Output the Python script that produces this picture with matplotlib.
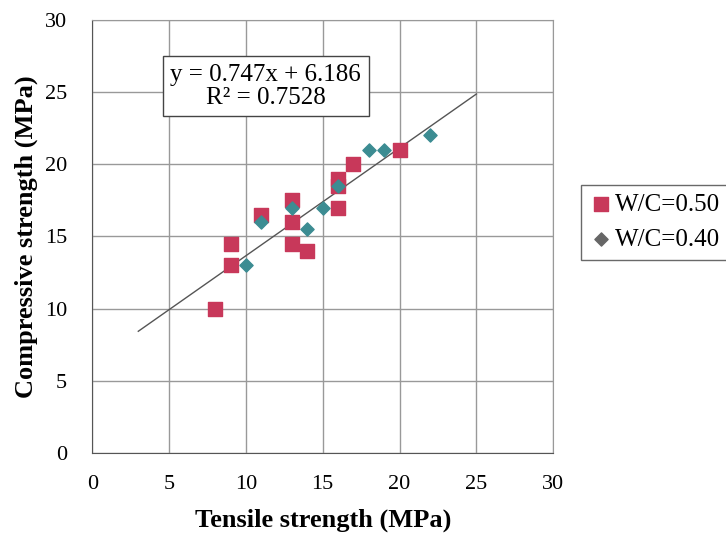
import matplotlib.pyplot as plt
import numpy as np

plt.rcParams['font.family'] = ['Liberation Serif', 'DejaVu Serif']

# W/C = 0.50 (squares)
x50 = [8, 9, 9, 11, 13, 13, 13, 14, 16, 16, 16, 17, 20]
y50 = [10, 14.5, 13, 16.5, 17.5, 16, 14.5, 14, 17, 19, 18.5, 20, 21]
# W/C = 0.40 (diamonds)
x40 = [10, 11, 13, 14, 15, 16, 18, 19, 22]
y40 = [13, 16, 17, 15.5, 17, 18.5, 21, 21, 22]

slope, intercept = 0.747, 6.186
fit_x = [3, 25]

fig = plt.figure(figsize=(7.26, 5.36), dpi=100)
ax = fig.add_axes([0.127, 0.155, 0.635, 0.808])

ax.plot(fit_x, [slope * v + intercept for v in fit_x], color='#555555', lw=1, zorder=2)
ax.scatter(x50, y50, marker='s', s=110, color='#C8385A', label='W/C=0.50', zorder=3)
ax.scatter(x40, y40, marker='D', s=45, color='#3C8C92', label='W/C=0.40', zorder=4)

ax.set_xlim(0, 30)
ax.set_ylim(0, 30)
ax.set_xticks(range(0, 31, 5))
ax.set_yticks(range(0, 31, 5))
ax.grid(True, color='#999999', lw=1)
ax.set_axisbelow(True)
for side, s in ax.spines.items():
    s.set_color('#555555' if side in ('left', 'bottom') else '#999999')
ax.tick_params(length=0, labelsize=16)
ax.tick_params(axis='x', pad=16)
ax.tick_params(axis='y', pad=18)

ax.set_xlabel('Tensile strength (MPa)', fontsize=19, fontweight='bold')
ax.set_ylabel('Compressive strength (MPa)', fontsize=19, fontweight='bold')
ax.xaxis.set_label_coords(0.5, -0.128)
ax.yaxis.set_label_coords(-0.118, 0.5)

ax.text(11.3, 25.4, 'y = 0.747x + 6.186\nR² = 0.7528', fontsize=18, ha='center', va='center',
        linespacing=1.05, bbox=dict(boxstyle='square,pad=0.3', fc='white', ec='#444444', lw=1))

leg = ax.legend(loc='center left', bbox_to_anchor=(581 / 726, 1 - 222 / 536),
                bbox_transform=fig.transFigure, fontsize=18, frameon=True,
                fancybox=False, edgecolor='#444444', handletextpad=0.1, borderpad=0.35,
                handlelength=0.9, labelspacing=0.5, borderaxespad=0)
leg.legend_handles[1].set_color('#666666')

fig.savefig('out.png', dpi=100)
